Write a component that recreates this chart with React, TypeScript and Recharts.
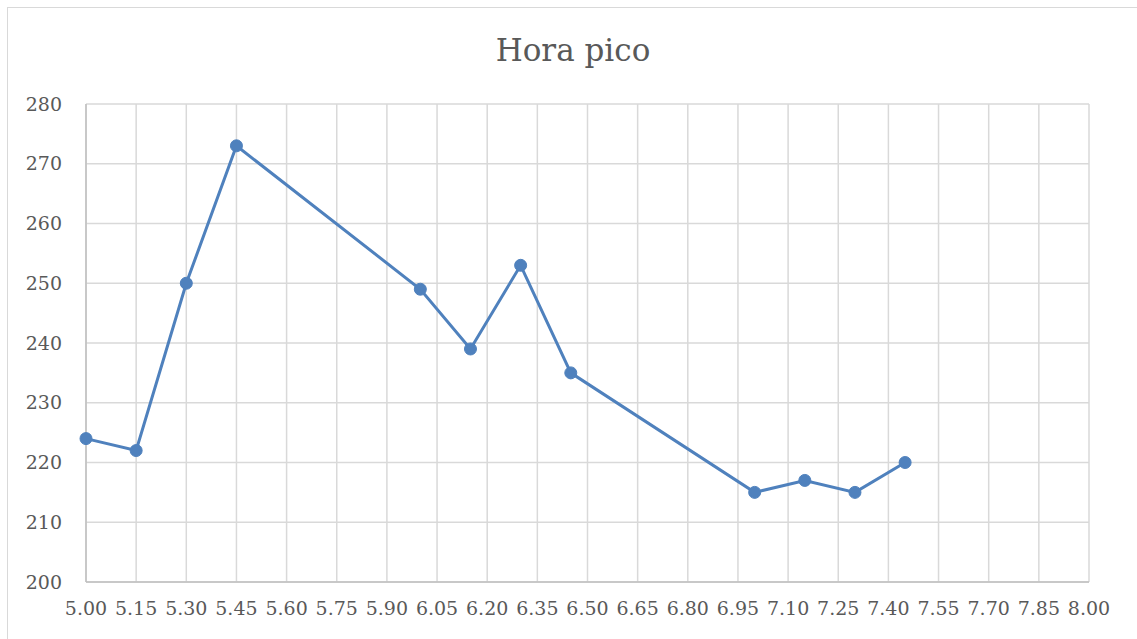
import { LineChart, Line, XAxis, YAxis, CartesianGrid } from 'recharts'

const horas = [5.0, 5.15, 5.3, 5.45, 6.0, 6.15, 6.3, 6.45, 7.0, 7.15, 7.3, 7.45]
const valores = [224, 222, 250, 273, 249, 239, 253, 235, 215, 217, 215, 220]
const xTicks = [
  5.0, 5.15, 5.3, 5.45, 5.6, 5.75, 5.9, 6.05, 6.2, 6.35, 6.5,
  6.65, 6.8, 6.95, 7.1, 7.25, 7.4, 7.55, 7.7, 7.85, 8.0,
]
const yTicks = [200, 210, 220, 230, 240, 250, 260, 270, 280]

const font = '"DejaVu Serif", serif'

export default function App() {
  const data = horas.map((h, i) => ({ hora: h, valor: valores[i] }))

  return (
    <div
      style={{
        position: 'absolute',
        left: 7,
        top: 7,
        width: 1140,
        height: 640,
        border: '1px solid #d9d9d9',
        background: '#fff',
        fontFamily: font,
      }}
    >
      <div
        style={{
          position: 'absolute',
          left: 0,
          width: 1130,
          top: 24,
          textAlign: 'center',
          fontSize: 31,
          color: '#595959',
        }}
      >
        Hora pico
      </div>
      <LineChart
        width={1130}
        height={631}
        data={data}
        margin={{ top: 96, right: 49, left: 18, bottom: 27 }}
      >
        <CartesianGrid stroke="#d9d9d9" strokeWidth={1.5} verticalValues={xTicks} />
        <XAxis
          dataKey="hora"
          type="number"
          domain={[5, 8]}
          ticks={xTicks}
          interval={0}
          tickFormatter={(v) => v.toFixed(2)}
          tick={{ fill: '#595959', fontSize: 19, fontFamily: font }}
          axisLine={{ stroke: '#bfbfbf', strokeWidth: 1.5 }}
          tickLine={false}
          tickMargin={14}
          height={30}
        />
        <YAxis
          domain={[200, 280]}
          ticks={yTicks}
          interval={0}
          tick={{ fill: '#595959', fontSize: 19, fontFamily: font }}
          axisLine={{ stroke: '#bfbfbf', strokeWidth: 1.5 }}
          tickLine={false}
          tickMargin={18}
          width={60}
        />
        <Line
          type="linear"
          dataKey="valor"
          stroke="#4f81bd"
          strokeWidth={3}
          dot={{ r: 6, fill: '#4f81bd', stroke: '#4f81bd', strokeWidth: 1 }}
          isAnimationActive={false}
        />
      </LineChart>
    </div>
  )
}
